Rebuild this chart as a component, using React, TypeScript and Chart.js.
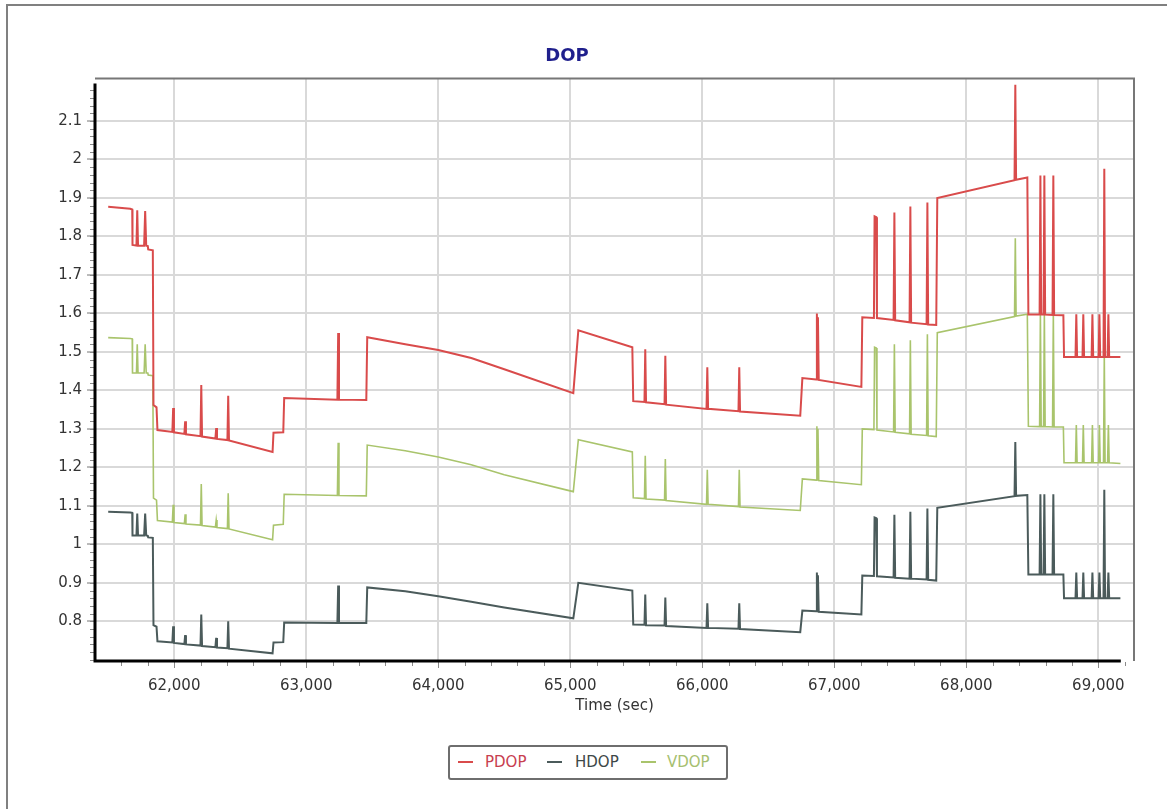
import { useEffect, useRef } from "react";
import { Chart, registerables } from "chart.js";

Chart.register(...registerables);

// Shared time stamps (sec)
const TIME = [
  61500, 61667, 61682, 61684, 61714, 61720, 61726, 61772, 61780, 61788, 61800, 61803, 61838, 61843, 61866, 61873,
  61986, 61992, 61998, 62077, 62083, 62089, 62199, 62205, 62211, 62312, 62318, 62324, 62403, 62409, 62415,
  62745, 62752, 62826, 62833, 63236, 63242, 63248, 63455, 63462,
  63750, 64000, 64250, 64500, 65023, 65061, 65470, 65477,
  65562, 65568, 65574, 65714, 65720, 65726, 66032, 66038, 66044, 66274, 66280, 66286,
  66742, 66758, 66863, 66868, 66872, 66876, 66882, 67205, 67212,
  67300, 67305, 67318, 67323, 67449, 67455, 67461, 67570, 67576, 67582, 67699, 67705, 67711, 67772, 67780,
  68365, 68371, 68377, 68462, 68470,
  68555, 68561, 68567, 68585, 68591, 68597, 68653, 68659, 68665, 68735, 68740,
  68827, 68833, 68839, 68880, 68886, 68892, 68949, 68955, 68961, 69002, 69008, 69014,
  69039, 69045, 69051, 69070, 69076, 69082, 69167,
];

const PDOP = [
  1.877, 1.872, 1.870, 1.778, 1.776, 1.868, 1.776, 1.776, 1.866, 1.776, 1.775, 1.766, 1.764, 1.362, 1.356, 1.297,
  1.292, 1.354, 1.291, 1.287, 1.320, 1.286, 1.281, 1.414, 1.280, 1.275, 1.302, 1.274, 1.271, 1.386, 1.270,
  1.240, 1.290, 1.291, 1.380, 1.376, 1.549, 1.376, 1.375, 1.538,
  1.520, 1.505, 1.484, 1.455, 1.393, 1.556, 1.512, 1.372,
  1.370, 1.507, 1.369, 1.364, 1.490, 1.363, 1.352, 1.460, 1.352, 1.346, 1.460, 1.345,
  1.334, 1.432, 1.428, 1.600, 1.430, 1.590, 1.427, 1.409, 1.590,
  1.588, 1.852, 1.850, 1.588, 1.583, 1.862, 1.582, 1.577, 1.878, 1.576, 1.572, 1.888, 1.571, 1.570, 1.900,
  1.946, 2.194, 1.947, 1.953, 1.597,
  1.597, 1.958, 1.597, 1.597, 1.958, 1.597, 1.596, 1.958, 1.596, 1.595, 1.487,
  1.487, 1.598, 1.487, 1.487, 1.598, 1.487, 1.487, 1.598, 1.487, 1.487, 1.598, 1.487,
  1.487, 1.976, 1.487, 1.487, 1.598, 1.487, 1.487,
];

const HDOP = [
  1.085, 1.083, 1.082, 1.023, 1.023, 1.080, 1.023, 1.023, 1.080, 1.023, 1.022, 1.018, 1.017, 0.790, 0.786, 0.748,
  0.745, 0.787, 0.744, 0.741, 0.764, 0.740, 0.737, 0.818, 0.736, 0.733, 0.757, 0.732, 0.730, 0.800, 0.729,
  0.717, 0.745, 0.746, 0.797, 0.796, 0.893, 0.796, 0.796, 0.888,
  0.878, 0.865, 0.851, 0.836, 0.808, 0.900, 0.880, 0.792,
  0.791, 0.870, 0.790, 0.789, 0.862, 0.788, 0.783, 0.847, 0.783, 0.781, 0.847, 0.780,
  0.772, 0.828, 0.826, 0.927, 0.826, 0.920, 0.825, 0.818, 0.919,
  0.918, 1.070, 1.068, 0.917, 0.914, 1.077, 0.913, 0.911, 1.085, 0.911, 0.909, 1.093, 0.908, 0.906, 1.095,
  1.125, 1.266, 1.126, 1.128, 0.922,
  0.922, 1.130, 0.922, 0.922, 1.130, 0.922, 0.922, 1.130, 0.922, 0.922, 0.860,
  0.860, 0.927, 0.860, 0.860, 0.927, 0.860, 0.860, 0.927, 0.860, 0.860, 0.927, 0.860,
  0.860, 1.142, 0.860, 0.860, 0.927, 0.860, 0.860,
];

const VDOP = [
  1.537, 1.535, 1.534, 1.445, 1.445, 1.520, 1.445, 1.445, 1.520, 1.445, 1.445, 1.440, 1.438, 1.120, 1.115, 1.062,
  1.058, 1.103, 1.057, 1.054, 1.078, 1.053, 1.050, 1.157, 1.049, 1.045, 1.063, 1.044, 1.041, 1.133, 1.040,
  1.012, 1.050, 1.052, 1.130, 1.127, 1.264, 1.127, 1.126, 1.258,
  1.243, 1.227, 1.207, 1.181, 1.137, 1.272, 1.240, 1.121,
  1.119, 1.230, 1.118, 1.115, 1.222, 1.114, 1.104, 1.194, 1.104, 1.098, 1.194, 1.097,
  1.088, 1.170, 1.167, 1.307, 1.168, 1.300, 1.166, 1.155, 1.300,
  1.298, 1.512, 1.510, 1.297, 1.292, 1.520, 1.291, 1.287, 1.530, 1.286, 1.283, 1.546, 1.282, 1.280, 1.550,
  1.592, 1.795, 1.593, 1.598, 1.307,
  1.306, 1.600, 1.306, 1.306, 1.600, 1.306, 1.305, 1.600, 1.305, 1.305, 1.212,
  1.212, 1.310, 1.212, 1.212, 1.310, 1.212, 1.212, 1.310, 1.212, 1.212, 1.310, 1.212,
  1.212, 1.490, 1.212, 1.212, 1.310, 1.212, 1.210,
];

const X_TICKS = [62000, 63000, 64000, 65000, 66000, 67000, 68000, 69000];
const Y_TICKS = [0.8, 0.9, 1.0, 1.1, 1.2, 1.3, 1.4, 1.5, 1.6, 1.7, 1.8, 1.9, 2.0, 2.1];

const SERIES_NAMES = ["PDOP", "HDOP", "VDOP"];
const SERIES_COLORS = ["#d94b4b", "#4b5b5b", "#a9c46c"];
const LEGEND_TEXT_COLORS = ["#c8404f", "#3d4848", "#a6c070"];

const FONT = "'DejaVu Sans', Verdana, sans-serif";

const axisDecor = {
  id: "axisDecor",
  afterDraw(chart: any) {
    const { ctx, chartArea, scales } = chart;
    const { left, top, right, bottom } = chartArea;
    const x = scales.x;
    const y = scales.y;
    ctx.save();
    // top & right frame of plot
    ctx.strokeStyle = "#777";
    ctx.lineWidth = 2;
    ctx.beginPath();
    ctx.moveTo(left, top);
    ctx.lineTo(right, top);
    ctx.lineTo(right, bottom);
    ctx.stroke();
    // y minor ticks
    ctx.strokeStyle = "#8a8a8a";
    ctx.lineWidth = 1;
    for (let i = 0; i <= 80; i++) {
      const v = 0.7 + i * 0.02;
      const py = Math.round(y.getPixelForValue(v)) + 0.5;
      if (py < top + 4 || py > bottom) continue;
      ctx.beginPath();
      ctx.moveTo(left - 5, py);
      ctx.lineTo(left - 1, py);
      ctx.stroke();
    }
    // x minor/major ticks
    for (let t = 61600; t <= 69200; t += 200) {
      const px = Math.round(x.getPixelForValue(t)) + 0.5;
      const major = t % 1000 === 0;
      ctx.beginPath();
      ctx.moveTo(px, bottom + 1);
      ctx.lineTo(px, bottom + (major ? 7 : 5));
      ctx.stroke();
    }
    // black axis lines
    ctx.strokeStyle = "#000";
    ctx.lineWidth = 3;
    ctx.beginPath();
    ctx.moveTo(left, top + 5);
    ctx.lineTo(left, bottom);
    ctx.lineTo(x.getPixelForValue(69170), bottom);
    ctx.stroke();
    ctx.restore();
  },
};

export default function App() {
  const canvasRef = useRef<HTMLCanvasElement | null>(null);

  useEffect(() => {
    const canvas = canvasRef.current;
    if (!canvas) return;
    const makeData = (vals: number[]) => TIME.map((t, i) => ({ x: t, y: vals[i] }));
    const chart = new Chart(canvas, {
      type: "line",
      data: {
        datasets: [PDOP, HDOP, VDOP].map((vals, i) => ({
          label: SERIES_NAMES[i],
          data: makeData(vals),
          borderColor: SERIES_COLORS[i],
          backgroundColor: SERIES_COLORS[i],
          borderWidth: i === 2 ? 1.6 : 2,
          pointRadius: 0,
          tension: 0,
          fill: false,
        })),
      },
      options: {
        animation: false,
        responsive: false,
        maintainAspectRatio: false,
        events: [],
        layout: { padding: { left: 0, top: 36, right: 33, bottom: 94 } },
        plugins: {
          legend: { display: false },
          tooltip: { enabled: false },
          title: {
            display: true,
            text: "DOP",
            color: "#1f1f8c",
            font: { family: FONT, size: 18, weight: "bold" },
            padding: { top: 10, bottom: 11 },
          },
        },
        scales: {
          x: {
            type: "linear",
            min: 61400,
            max: 69270,
            afterBuildTicks: (scale: any) => {
              scale.ticks = X_TICKS.map((v) => ({ value: v }));
            },
            ticks: {
              color: "#333",
              font: { family: FONT, size: 15 },
              padding: 2,
              maxRotation: 0,
              autoSkip: false,
              callback: (v: any) => Number(v).toLocaleString("en-US"),
            },
            grid: {
              color: "#d9d9d9",
              lineWidth: 2,
              drawTicks: true,
              tickLength: 14,
              tickColor: "rgba(0,0,0,0)",
            },
            border: { display: false },
            title: {
              display: true,
              text: "Time (sec)",
              color: "#333",
              font: { family: FONT, size: 15 },
              padding: { top: 0, bottom: 0 },
            },
          },
          y: {
            type: "linear",
            min: 0.697,
            max: 2.21,
            afterBuildTicks: (scale: any) => {
              scale.ticks = Y_TICKS.map((v) => ({ value: v }));
            },
            afterFit: (scale: any) => {
              scale.width = 95;
            },
            ticks: {
              color: "#333",
              font: { family: FONT, size: 15 },
              padding: 5,
              autoSkip: false,
              callback: (v: any) => String(Math.round(Number(v) * 10) / 10),
            },
            grid: {
              color: "#d9d9d9",
              lineWidth: 2,
              drawTicks: true,
              tickLength: 8,
              tickColor: "#777",
              tickWidth: 1,
            },
            border: { display: false },
          },
        },
      },
      plugins: [axisDecor],
    } as any);
    return () => chart.destroy();
  }, []);

  const legendItems = [
    { marker: 10, text: 37 },
    { marker: 99, text: 127 },
    { marker: 193, text: 219 },
  ];

  return (
    <div
      style={{
        position: "fixed",
        left: 0,
        top: 0,
        width: 1167,
        height: 809,
        background: "#fff",
        overflow: "hidden",
        fontFamily: FONT,
      }}
    >
      <div
        style={{
          position: "absolute",
          left: 6,
          top: 4,
          width: 1300,
          height: 1000,
          borderLeft: "2px solid #808080",
          borderTop: "2px solid #808080",
        }}
      />
      <canvas
        ref={canvasRef}
        width={1167}
        height={809}
        style={{ position: "absolute", left: 0, top: 0, width: 1167, height: 809 }}
      />
      <div
        style={{
          position: "absolute",
          left: 448,
          top: 745,
          width: 280,
          height: 35,
          boxSizing: "border-box",
          border: "2px solid #6e6e6e",
          borderRadius: 3,
          background: "#fff",
        }}
      >
        {SERIES_NAMES.map((name, i) => (
          <div key={name}>
            <div
              style={{
                position: "absolute",
                left: legendItems[i].marker - 2,
                top: 14,
                width: 15,
                height: 2,
                background: SERIES_COLORS[i],
              }}
            />
            <div
              style={{
                position: "absolute",
                left: legendItems[i].text - 2,
                top: 6,
                fontSize: 15,
                lineHeight: "18px",
                color: LEGEND_TEXT_COLORS[i],
                whiteSpace: "nowrap",
              }}
            >
              {name}
            </div>
          </div>
        ))}
      </div>
    </div>
  );
}
